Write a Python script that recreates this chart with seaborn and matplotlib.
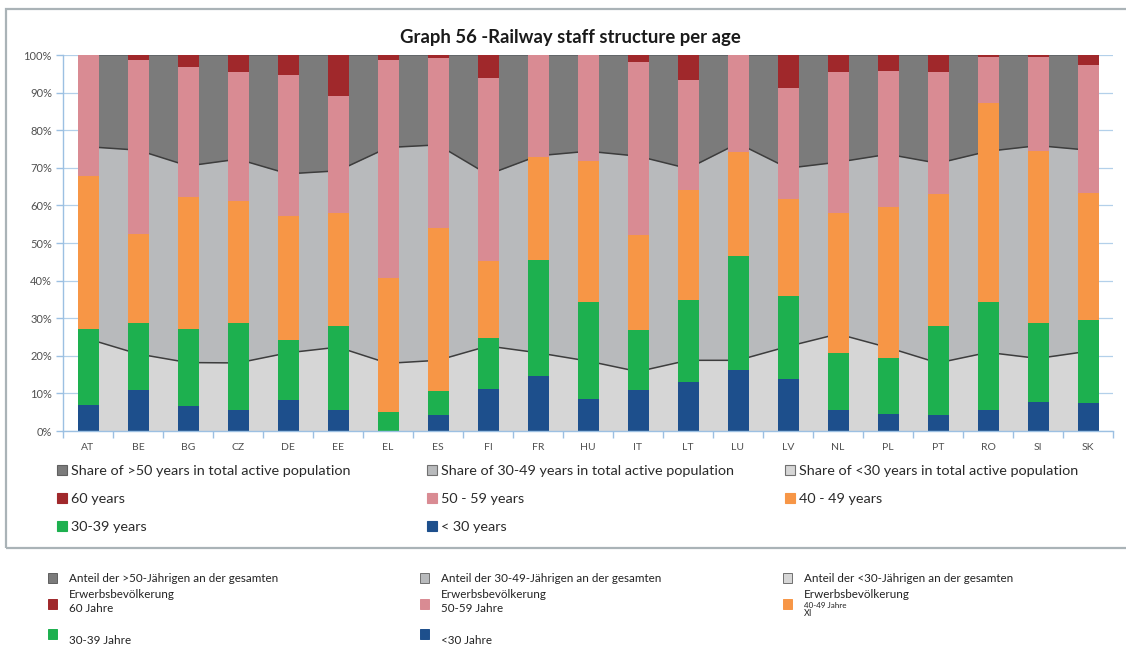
import numpy as np
import matplotlib
matplotlib.use("Agg")
import matplotlib.pyplot as plt
import seaborn as sns
from matplotlib.patches import Patch, Rectangle

countries = ["AT", "BE", "BG", "CZ", "DE", "EE", "EL", "ES", "FI", "FR", "HU",
             "IT", "LT", "LU", "LV", "NL", "PL", "PT", "RO", "SI", "SK"]

# railway staff by age group (% of staff)
under30 = [7.0, 11.0, 6.6, 5.7, 8.3, 5.7, 0.0, 4.2, 11.1, 14.6, 8.4,
           10.8, 13.0, 16.1, 13.9, 5.5, 4.6, 4.2, 5.5, 7.7, 7.5]
age30_39 = [20.2, 17.7, 20.4, 23.0, 16.0, 22.2, 5.1, 6.4, 13.7, 31.0, 25.8,
            16.0, 21.8, 30.4, 22.0, 15.3, 14.7, 23.7, 28.8, 21.0, 22.0]
age40_49 = [40.6, 23.8, 35.3, 32.5, 32.8, 30.0, 35.5, 43.3, 20.5, 27.2, 37.7,
            25.3, 29.3, 27.6, 25.9, 37.1, 40.3, 35.1, 53.0, 45.8, 33.7]
age50_59 = [32.2, 46.2, 34.6, 34.2, 37.6, 31.2, 58.1, 45.2, 48.7, 27.2, 28.1,
            46.1, 29.2, 25.9, 29.5, 37.7, 36.2, 32.6, 12.3, 24.9, 34.1]
age60 = [0.0, 1.3, 3.1, 4.6, 5.3, 10.9, 1.3, 0.9, 6.0, 0.0, 0.0,
         1.8, 6.7, 0.0, 8.7, 4.4, 4.2, 4.4, 0.4, 0.6, 2.7]

# share of age groups in total active population (%)
pop_under30 = [24.5, 20.5, 18.2, 18.1, 20.8, 22.3, 18.0, 18.8, 22.6, 20.8, 18.6,
               15.8, 18.8, 18.8, 22.5, 25.8, 22.2, 18.1, 20.9, 19.3, 21.2]
pop_30_49 = [51.1, 54.2, 52.3, 54.2, 47.6, 46.9, 57.4, 57.3, 45.6, 52.4, 55.8,
             57.3, 51.0, 57.7, 47.4, 45.7, 51.4, 53.1, 53.5, 56.6, 53.5]
pop_over50 = [24.4, 25.3, 29.5, 27.7, 31.6, 30.8, 24.6, 23.9, 31.8, 26.8, 25.6,
              26.9, 30.2, 23.5, 30.1, 28.5, 26.4, 28.8, 25.6, 24.1, 25.3]

W, H = 1126, 648
C_OVER50, C_30_49, C_UNDER30 = "#7b7b7b", "#b8babc", "#d6d6d6"
C_60, C_50, C_40, C_30, C_U30 = "#a0282b", "#d98b93", "#f79646", "#1db04f", "#1d4f8c"
AXIS = "#9cc0e2"

sns.set_theme(style="white")
plt.rcParams["font.family"] = ["Lato", "DejaVu Sans"]

fig = plt.figure(figsize=(W / 100, H / 100), dpi=100)
ax = fig.add_axes([63 / W, 1 - 431 / H, 1050 / W, 376 / H])

x = np.arange(len(countries))
ax.stackplot(x, pop_under30, pop_30_49, pop_over50,
             colors=[C_UNDER30, C_30_49, C_OVER50], zorder=1, lw=0)
low = np.array(pop_under30)
mid = low + np.array(pop_30_49)
ax.plot(x, low, color="#3d3d3d", lw=1.1, zorder=1.5)
ax.plot(x, mid, color="#3d3d3d", lw=1.1, zorder=1.5)
ax.plot(x, mid + np.array(pop_over50), color="#555555", lw=1.1, zorder=1.5)

segments = [under30, age30_39, age40_49, age50_59, age60]
colors = [C_U30, C_30, C_40, C_50, C_60]
cum = np.cumsum(np.array(segments), axis=0)
for i in range(len(segments) - 1, -1, -1):
    sns.barplot(x=countries, y=cum[i], color=colors[i], width=0.42, saturation=1,
                errorbar=None, edgecolor="none", linewidth=0, zorder=2, ax=ax)

ax.set_xlim(-0.5, len(countries) - 0.5)
ax.set_ylim(0, 100)
ax.set_yticks(np.arange(0, 101, 10))
ax.set_yticklabels([f"{v}%" for v in range(0, 101, 10)])
ax.yaxis.grid(True, color="#b3d0ea", lw=0.9)
ax.set_axisbelow(True)
ax.set_xticks(np.arange(-0.5, len(countries), 1), minor=True)
ax.tick_params(axis="x", which="major", length=0, labelsize=7.5, labelcolor="#505050", pad=9)
ax.tick_params(axis="x", which="minor", length=5, color=AXIS, width=1, direction="out", bottom=True)
ax.tick_params(axis="y", length=5, color=AXIS, width=1, direction="out", left=True,
               labelsize=8, labelcolor="#505050", pad=3)
ax.set_xlabel("")
ax.set_ylabel("")
for s in ["top", "right"]:
    ax.spines[s].set_visible(False)
for s in ["left", "bottom"]:
    ax.spines[s].set_color(AXIS)
    ax.spines[s].set_linewidth(1)

fig.text(570 / W, 1 - 37 / H, "Graph 56 -Railway staff structure per age",
         ha="center", va="center", fontsize=13.3, fontweight="bold", color="#1a1a1a")

# legend inside the frame, three fixed columns
cols = [
    (57, [(C_OVER50, "#606060", "Share of >50 years in total active population"),
          (C_60, C_60, "60 years"), (C_30, C_30, "30-39 years")]),
    (427, [(C_30_49, "#707070", "Share of 30-49 years in total active population"),
           (C_50, C_50, "50 - 59 years"), (C_U30, C_U30, "< 30 years")]),
    (785, [(C_UNDER30, "#707070", "Share of <30 years in total active population"),
           (C_40, C_40, "40 - 49 years")]),
]
for xpix, entries in cols:
    handles = [Patch(facecolor=f, edgecolor=e, lw=0.8) for f, e, _ in entries]
    labels = [t for _, _, t in entries]
    fig.legend(handles, labels, loc="upper left", bbox_to_anchor=(xpix / W, 1 - 465 / H),
               frameon=False, fontsize=10.4, handlelength=0.72, handleheight=0.72,
               handletextpad=0.25, labelspacing=1.1, borderpad=0, borderaxespad=0,
               labelcolor="#2a2a2a")

fig.add_artist(Rectangle((6 / W, 1 - 548 / H), 1.05, (548 - 9) / H, transform=fig.transFigure,
                         facecolor="none", edgecolor="#aab3b7", lw=1.6))

# German legend below the frame
de_cols = [
    (48, [(C_OVER50, "#606060", 578), (C_60, C_60, 604), (C_30, C_30, 634)],
     [("Anteil der >50-Jährigen an der gesamten", 579), ("Erwerbsbevölkerung", 595),
      ("60 Jahre", 609), ("30-39 Jahre", 640)]),
    (420, [(C_30_49, "#707070", 578), (C_50, C_50, 604), (C_U30, C_U30, 634)],
     [("Anteil der 30-49-Jährigen an der gesamten", 579), ("Erwerbsbevölkerung", 595),
      ("50-59 Jahre", 609), ("<30 Jahre", 640)]),
    (783, [(C_UNDER30, "#707070", 578), (C_40, C_40, 604)],
     [("Anteil der <30-Jährigen an der gesamten", 579), ("Erwerbsbevölkerung", 595)]),
]
for xpix, squares, texts in de_cols:
    for f, e, ypix in squares:
        fig.add_artist(Rectangle((xpix / W, 1 - (ypix + 5) / H), 9 / W, 10 / H,
                                 transform=fig.transFigure, facecolor=f, edgecolor=e, lw=0.7))
    for t, ypix in texts:
        fig.text((xpix + 21) / W, 1 - ypix / H, t, ha="left", va="center",
                 fontsize=8.4, color="#222222")
fig.text(804 / W, 1 - 605 / H, "40-49 Jahre", ha="left", va="center", fontsize=5.8, color="#222222")
fig.text(804 / W, 1 - 614 / H, "XI", ha="left", va="center", fontsize=6.5, color="#222222")

fig.savefig("out.png", dpi=100, facecolor="white")
